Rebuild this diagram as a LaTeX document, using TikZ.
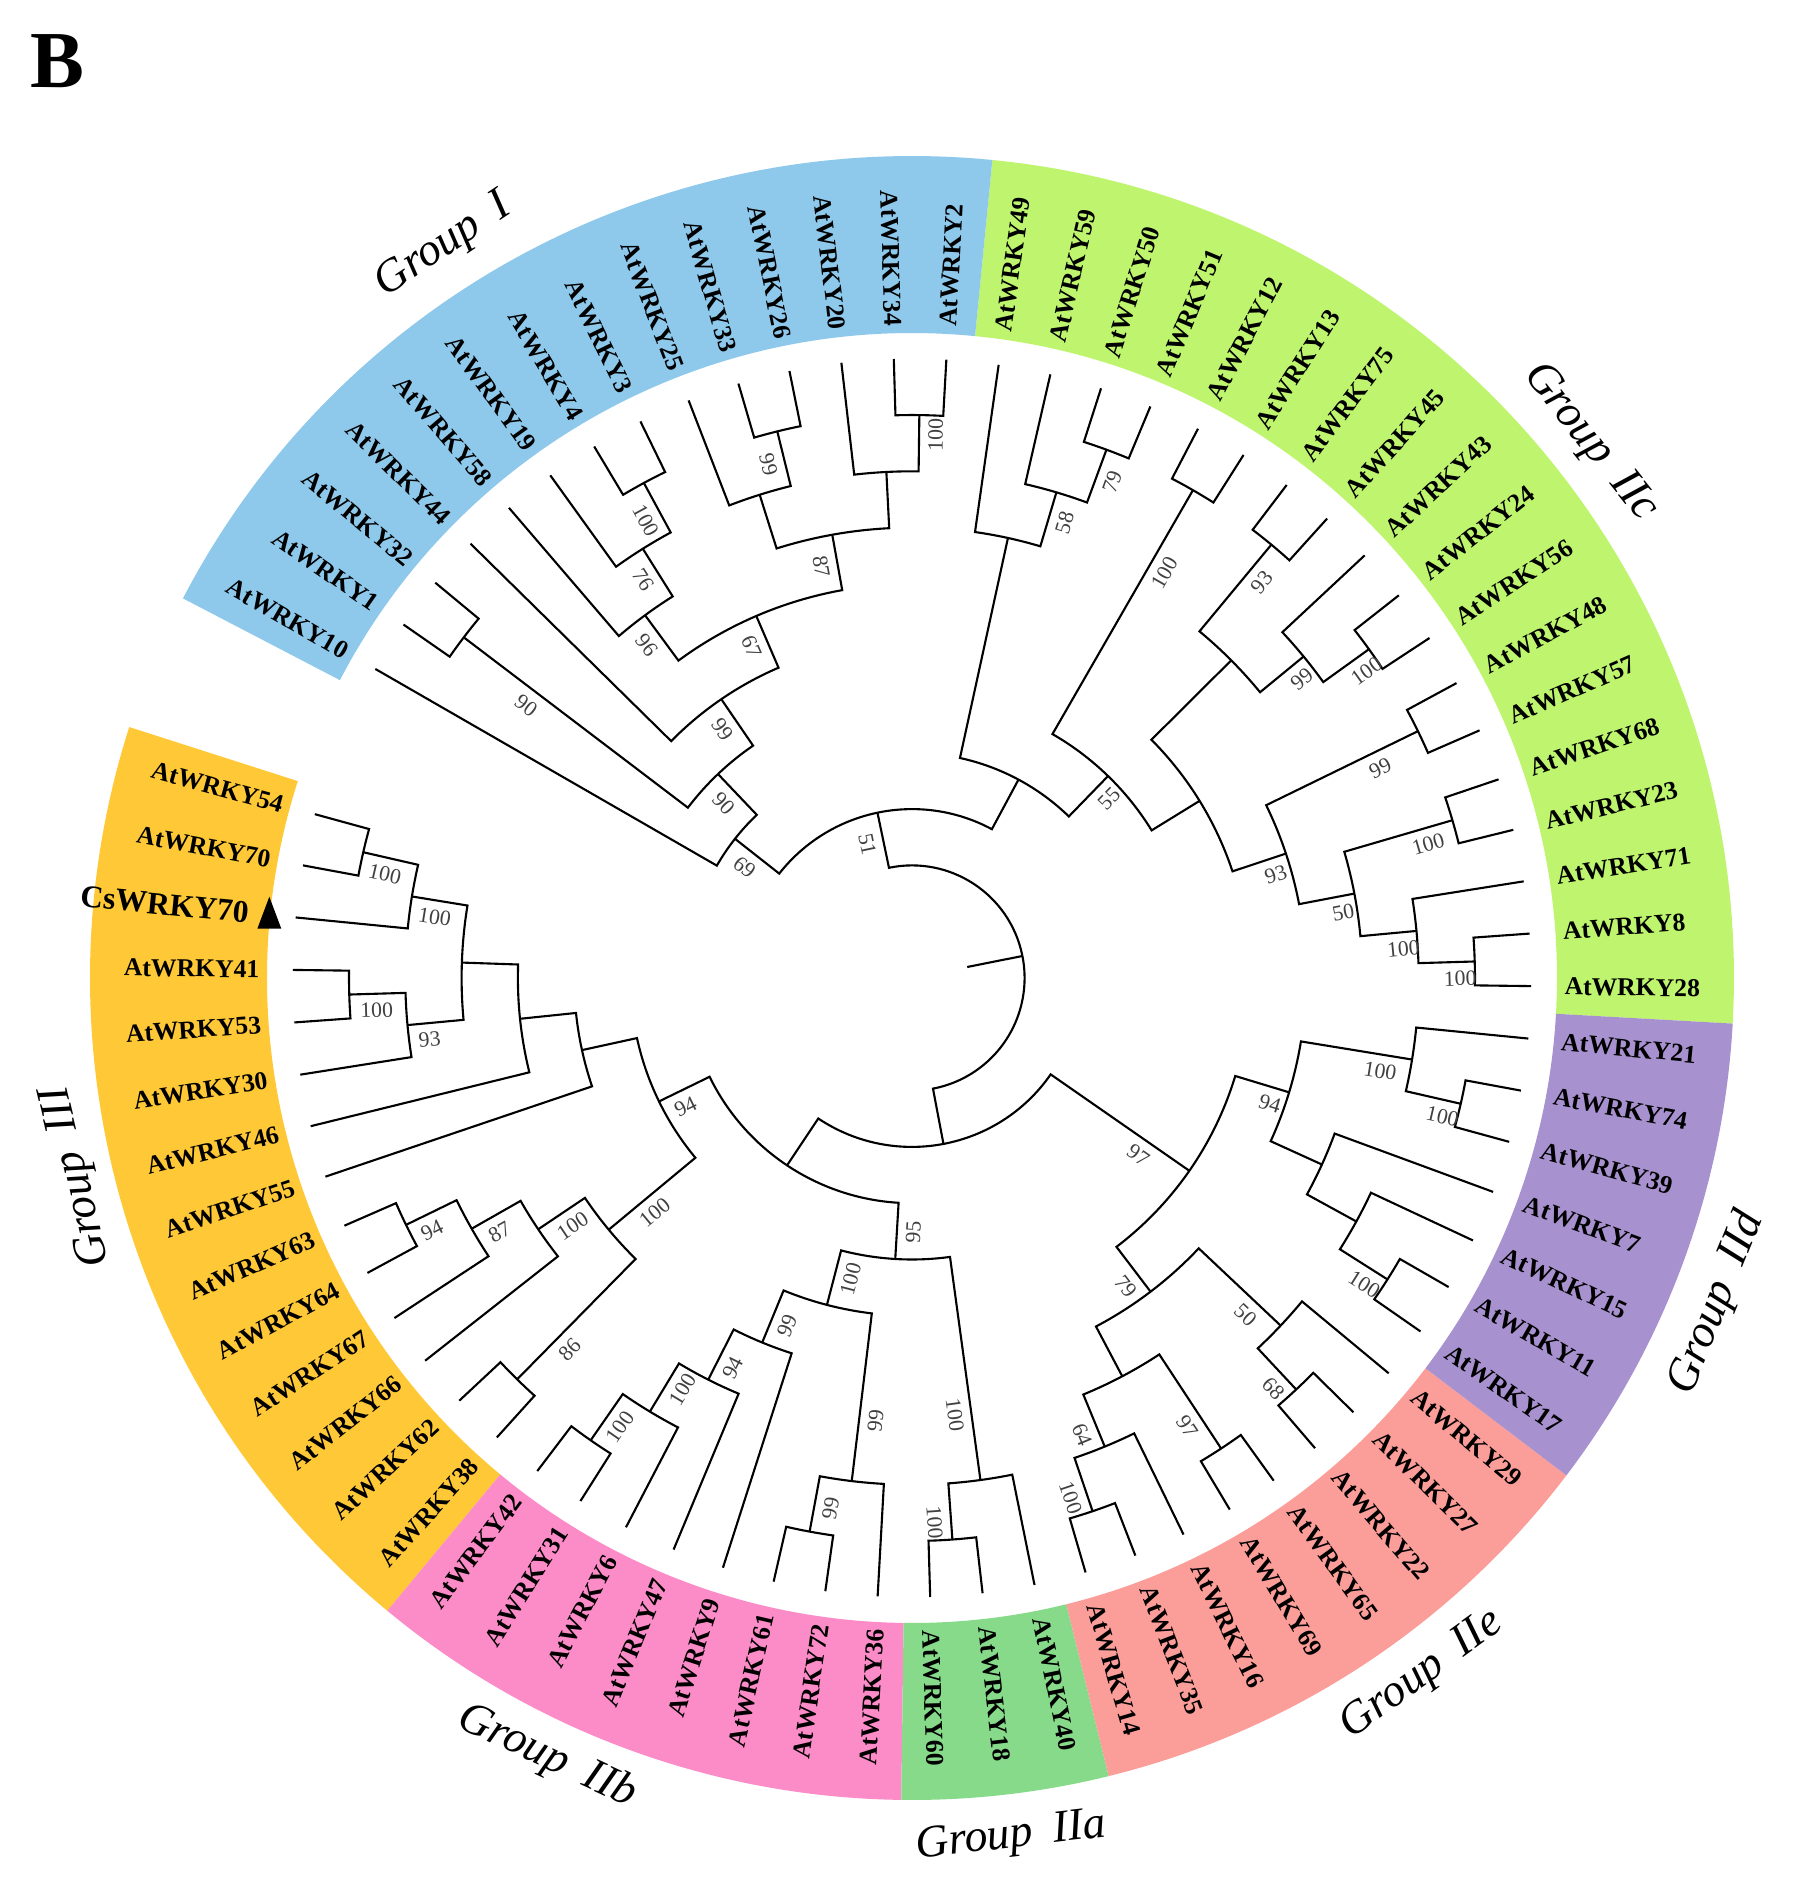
\documentclass[tikz,border=0pt]{standalone}
\usepackage{fontspec}
\setmainfont{Liberation Serif}

\definecolor{colI}{RGB}{142,201,236}
\definecolor{colIIc}{RGB}{190,244,110}
\definecolor{colIId}{RGB}{167,145,207}
\definecolor{colIIe}{RGB}{251,157,152}
\definecolor{colIIa}{RGB}{134,218,137}
\definecolor{colIIb}{RGB}{252,140,200}
\definecolor{colIII}{RGB}{254,200,55}

% leaf k sits at angle -0.75+360/74*k, tree level L at radius 56.3*L
\newcommand\ang[1]{-0.75+4.8649*(#1)}
\newcommand\lev[1]{56.3*(#1)}
% clade: level, first child (k, level), second child (k, level)
\newcommand\clade[5]{%
  \draw[branch] ({\ang{#2}}:{\lev{#3}}) -- ({\ang{#2}}:{\lev{#1}})
    arc[start angle={\ang{#2}}, end angle={\ang{#4}}, radius={\lev{#1}}]
    -- ({\ang{#4}}:{\lev{#5}});}
% bootstrap value: node k, radius, value
\newcommand\bsv[3]{%
  \pgfmathsetmacro\bsang{\ang{#1}}%
  \pgfmathsetmacro\bsrot{(\bsang>90 && \bsang<270) ? \bsang-180 : \bsang}%
  \node[boot, rotate=\bsrot] at (\bsang:#2) {#3};}
% coloured band of the ring from k1 to k2
\newcommand\band[3]{%
  \fill[#3] ({\ang{#1}}:645) arc[start angle={\ang{#1}}, end angle={\ang{#2}}, radius=645]
    -- ({\ang{#2}}:822) arc[start angle={\ang{#2}}, end angle={\ang{#1}}, radius=822] -- cycle;}

\begin{document}
\begin{tikzpicture}[x=0.1mm,y=0.1mm,
    branch/.style={line width=0.6pt},
    leaf/.style={font=\fontsize{7.3}{8}\selectfont\bfseries, inner sep=0pt},
    boot/.style={font=\fontsize{6.2}{7}\selectfont, text=black!75, anchor=north, inner sep=2.4pt},
    grp/.style={font=\fontsize{13}{15}\selectfont\itshape, inner sep=0pt}]
  \useasboundingbox (-912,-921) rectangle (886,978);

  \node[font=\fontsize{23}{25}\selectfont\bfseries, anchor=north west, inner sep=0pt] (panel) at (-882,944) {B};

  % ring
  \band{-0.5}{17.5}{colIIc}
  \band{17.5}{31.5}{colI}
  \band{33.5}{47.5}{colIII}
  \band{47.5}{55.5}{colIIb}
  \band{55.5}{58.5}{colIIa}
  \band{58.5}{66.5}{colIIe}
  \band{66.5}{73.5}{colIId}

  % group I
  \clade{10}{18}{11}{19}{11}
  \clade{9}{18.5}{10}{20}{11}
  \clade{10}{21}{11}{22}{11}
  \clade{9}{21.5}{10}{23}{11}
  \clade{8}{19.25}{9}{22.25}{9}
  \clade{10}{24}{11}{25}{11}
  \clade{9}{24.5}{10}{26}{11}
  \clade{8}{25.25}{9}{27}{11}
  \clade{7}{20.75}{8}{26.125}{8}
  \clade{6}{23.4375}{7}{28}{11}
  \clade{10}{29}{11}{30}{11}
  \clade{5}{25.71875}{6}{29.5}{10}
  \clade{4}{27.609375}{5}{31}{11}

  % group IIc
  \clade{10}{14}{11}{15}{11}
  \clade{9}{14.5}{10}{16}{11}
  \clade{8}{15.25}{9}{17}{11}
  \clade{10}{12}{11}{13}{11}
  \clade{10}{10}{11}{11}{11}
  \clade{10}{7}{11}{8}{11}
  \clade{9}{7.5}{10}{9}{11}
  \clade{8}{8.25}{9}{10.5}{10}
  \clade{10}{5}{11}{6}{11}
  \clade{10}{3}{11}{4}{11}
  \clade{10}{0}{11}{1}{11}
  \clade{9}{0.5}{10}{2}{11}
  \clade{8}{1.25}{9}{3.5}{10}
  \clade{7}{2.375}{8}{5.5}{10}
  \clade{6}{3.9375}{7}{9.375}{8}
  \clade{5}{6.65625}{6}{12.5}{10}
  \clade{4}{9.578125}{5}{16.125}{8}
  \clade{3}{12.8515625}{4}{29.3046875}{4}

  % group IId
  \clade{10}{71}{11}{72}{11}
  \clade{9}{71.5}{10}{73}{11}
  \clade{10}{67}{11}{68}{11}
  \clade{9}{67.5}{10}{69}{11}
  \clade{8}{68.25}{9}{70}{11}
  \clade{7}{69.125}{8}{72.25}{9}

  % group IIe
  \clade{10}{64}{11}{65}{11}
  \clade{9}{64.5}{10}{66}{11}
  \clade{10}{62}{11}{63}{11}
  \clade{10}{59}{11}{60}{11}
  \clade{9}{59.5}{10}{61}{11}
  \clade{8}{60.25}{9}{62.5}{10}
  \clade{7}{61.375}{8}{65.25}{9}
  \clade{6}{63.3125}{7}{70.6875}{7}

  % groups IIa and IIb
  \clade{10}{56}{11}{57}{11}
  \clade{9}{56.5}{10}{58}{11}
  \clade{10}{53}{11}{54}{11}
  \clade{9}{53.5}{10}{55}{11}
  \clade{10}{48}{11}{49}{11}
  \clade{9}{48.5}{10}{50}{11}
  \clade{8}{49.25}{9}{51}{11}
  \clade{7}{50.125}{8}{52}{11}
  \clade{6}{51.0625}{7}{54.25}{9}
  \clade{5}{52.65625}{6}{57.25}{9}

  % group III
  \clade{10}{34}{11}{35}{11}
  \clade{9}{34.5}{10}{36}{11}
  \clade{10}{37}{11}{38}{11}
  \clade{9}{37.5}{10}{39}{11}
  \clade{8}{35.25}{9}{38.25}{9}
  \clade{7}{36.75}{8}{40}{11}
  \clade{6}{38.375}{7}{41}{11}
  \clade{10}{42}{11}{43}{11}
  \clade{9}{42.5}{10}{44}{11}
  \clade{8}{43.25}{9}{45}{11}
  \clade{10}{46}{11}{47}{11}
  \clade{7}{44.125}{8}{46.5}{10}
  \clade{5}{39.6875}{6}{45.3125}{7}
  \clade{4}{42.5}{5}{54.953125}{5}
  \clade{3}{48.7265625}{4}{67}{6}

  % root
  \clade{2}{21.078125}{3}{-16.13671875}{3}
  \draw[branch] ({\ang{2.4707}}:{\lev{1}}) -- ({\ang{2.4707}}:{\lev{2}});

  % bootstrap values
  \bsv{18.5}{543}{100} \bsv{21.5}{533}{99} \bsv{20.75}{421}{87}
  \bsv{24.5}{529}{100} \bsv{25.25}{480}{76} \bsv{26.125}{425}{96}
  \bsv{23.4375}{368}{67} \bsv{25.71875}{312}{99} \bsv{29.5}{472}{90}
  \bsv{27.609375}{256}{90} \bsv{29.3046875}{200}{69} \bsv{21.078125}{140}{51}
  \bsv{15.25}{480}{58} \bsv{14.5}{535}{79} \bsv{12.5}{477}{100}
  \bsv{10.5}{528}{93} \bsv{8.25}{491}{99} \bsv{7.5}{548}{100}
  \bsv{9.578125}{266}{55} \bsv{3.9375}{378}{93} \bsv{5.5}{513}{99}
  \bsv{2.375}{436}{50} \bsv{3.5}{533}{100} \bsv{1.25}{492}{100}
  \bsv{0.5}{548}{100}
  \bsv{70.6875}{379}{94} \bsv{72.25}{477}{100} \bsv{71.5}{548}{100}
  \bsv{67.5}{546}{100}
  \bsv{67}{287}{97} \bsv{63.3125}{375}{79} \bsv{65.25}{474}{50}
  \bsv{64.5}{547}{68} \bsv{62.5}{526}{97} \bsv{60.25}{487}{64}
  \bsv{59.5}{543}{100}
  \bsv{57.25}{439}{100} \bsv{56.5}{545}{100}
  \bsv{54.953125}{254}{95} \bsv{52.65625}{307}{100} \bsv{51.0625}{369}{99}
  \bsv{54.25}{444}{99} \bsv{53.5}{536}{99} \bsv{50.125}{429}{94}
  \bsv{49.25}{471}{100} \bsv{48.5}{535}{100}
  \bsv{34.5}{537}{100} \bsv{35.25}{481}{100} \bsv{37.5}{536}{100}
  \bsv{38.25}{486}{93} \bsv{42.5}{260}{94} \bsv{45.3125}{348}{100}
  \bsv{44.125}{420}{100} \bsv{43.25}{484}{87} \bsv{42.5}{542}{94}
  \bsv{46.5}{505}{86}

  % leaf names
  \foreach \k/\nm in {0/AtWRKY28, 1/AtWRKY8, 2/AtWRKY71, 3/AtWRKY23, 4/AtWRKY68,
      5/AtWRKY57, 6/AtWRKY48, 7/AtWRKY56, 8/AtWRKY24, 9/AtWRKY43, 10/AtWRKY45,
      11/AtWRKY75, 12/AtWRKY13, 13/AtWRKY12, 14/AtWRKY51, 15/AtWRKY50,
      16/AtWRKY59, 17/AtWRKY49, 18/AtWRKY2, 56/AtWRKY60, 57/AtWRKY18,
      58/AtWRKY40, 59/AtWRKY14, 60/AtWRKY35, 61/AtWRKY16, 62/AtWRKY69,
      63/AtWRKY65, 64/AtWRKY22, 65/AtWRKY27, 66/AtWRKY29, 67/AtWRKY17,
      68/AtWRKY11, 69/AtWRKY15, 70/AtWRKY7, 71/AtWRKY39, 72/AtWRKY74, 73/AtWRKY21}
    \node[leaf, anchor=west, rotate={\ang{\k}}] (l\k) at ({\ang{\k}}:652) {\nm};
  \foreach \k/\nm in {19/AtWRKY34, 20/AtWRKY20, 21/AtWRKY26, 22/AtWRKY33,
      23/AtWRKY25, 24/AtWRKY3, 25/AtWRKY4, 26/AtWRKY19, 27/AtWRKY58, 28/AtWRKY44,
      29/AtWRKY32, 30/AtWRKY1, 31/AtWRKY10, 34/AtWRKY54, 35/AtWRKY70,
      37/AtWRKY41, 38/AtWRKY53, 39/AtWRKY30, 40/AtWRKY46, 41/AtWRKY55,
      42/AtWRKY63, 43/AtWRKY64, 44/AtWRKY67, 45/AtWRKY66, 46/AtWRKY62,
      47/AtWRKY38, 48/AtWRKY42, 49/AtWRKY31, 50/AtWRKY6, 51/AtWRKY47,
      52/AtWRKY9, 53/AtWRKY61, 54/AtWRKY72, 55/AtWRKY36}
    \node[leaf, anchor=east, rotate={\ang{\k}-180}] (l\k) at ({\ang{\k}}:652) {\nm};
  \node[leaf, font=\fontsize{9}{10}\selectfont\bfseries, anchor=east, rotate={\ang{36}-180}] (l36) at ({\ang{36}}:666) {CsWRKY70};
  \coordinate (mark) at (174.2:646);
  \fill (mark) ++(-12,-16) -- ++(24,0) -- ++(-12,32) -- cycle;

  % group names
  \node[grp, rotate=33.7] (gI) at (122.6:869) {Group\hspace{0.45em}I};
  \node[grp, rotate=-51.5] (gIIc) at (38.3:864) {Group\hspace{0.45em}IIc};
  \node[grp, rotate=68] (gIId) at (338:868) {Group\hspace{0.45em}IId};
  \node[grp, rotate=36] (gIIe) at (306.2:864) {Group\hspace{0.45em}IIe};
  \node[grp, rotate=6.6] (gIIa) at (276.6:865) {Group\hspace{0.45em}IIa};
  \node[grp, rotate=-25.1] (gIIb) at (244.9:860) {Group\hspace{0.45em}IIb};
  \node[grp, rotate=103.4] (gIII) at (193.4:858) {Group\hspace{0.45em}III};
\end{tikzpicture}
\end{document}
